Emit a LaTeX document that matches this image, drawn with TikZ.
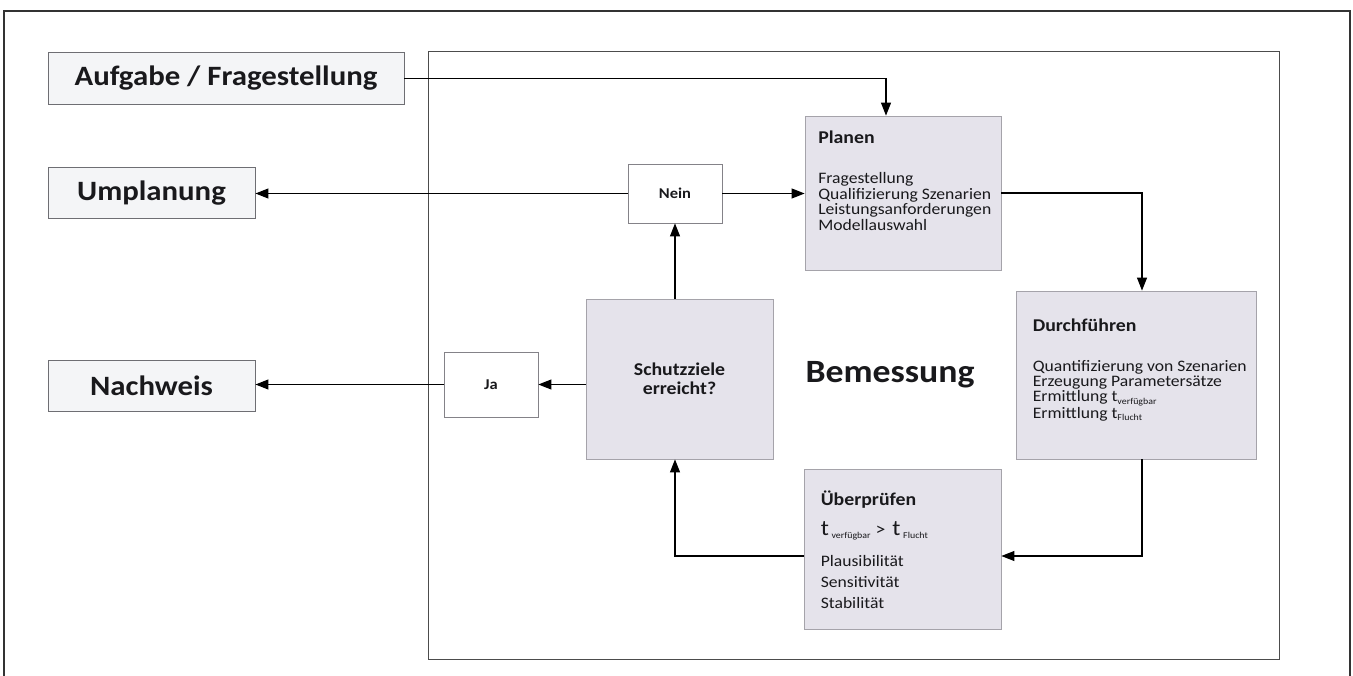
\documentclass[tikz,border=0pt]{standalone}
\usepackage{fontspec}
\setmainfont{Carlito}[FakeStretch=1.1]
\usetikzlibrary{arrows.meta,calc}
\definecolor{procfill}{RGB}{229,227,235}
\definecolor{procdraw}{RGB}{165,163,170}
\definecolor{sidefill}{RGB}{244,245,247}
\definecolor{sidedraw}{RGB}{110,110,115}
\definecolor{txt}{RGB}{25,25,28}
\newcommand{\hdf}{\fontsize{18}{20}\selectfont\bfseries}
\newcommand{\subf}[1]{\raisebox{-2.5pt}{\fontsize{9}{9}\selectfont #1}}
\begin{document}
\begin{tikzpicture}[x=1pt,y=-1pt,
  sidebox/.style={draw=sidedraw,fill=sidefill,line width=0.9pt,inner sep=0pt,
    font=\fontsize{28}{30}\selectfont\bfseries,text=txt},
  procbox/.style={draw=procdraw,fill=procfill,line width=0.8pt,inner sep=0pt},
  decbox/.style={draw=procdraw!80!black,fill=white,line width=0.8pt,inner sep=0pt,
    font=\fontsize{15}{17}\selectfont\bfseries,text=txt},
  inner/.style={anchor=north west,align=left,inner sep=0pt,text=txt},
  conn/.style={line width=1.1pt,-{Triangle[length=13pt,width=10pt]}},
  ]
\useasboundingbox (0,0) rectangle (1353,676);
% frames
\draw[line width=1.5pt,draw=black!80] (4,700) -- (4,11) -- (1350,11) -- (1350,700);
\draw[line width=1pt,draw=black!70] (428,52) rectangle (1279,659);

% left boxes
\node[sidebox,minimum width=356pt,minimum height=52pt] (auf) at (226,78.5) {Aufgabe / Fragestellung};
\node[sidebox,minimum width=207pt,minimum height=51pt] (um) at (151.5,193) {Umplanung};
\node[sidebox,minimum width=207pt,minimum height=51pt] (nw) at (151.5,385.5) {Nachweis};

% decision boxes
\node[decbox,minimum width=94pt,minimum height=59pt] (nein) at (675,193.5) {Nein};
\node[decbox,minimum width=94pt,minimum height=65pt] (ja) at (491,384.5) {Ja};

% process boxes
\node[procbox,minimum width=187pt,minimum height=160pt,align=center,
  font=\fontsize{18}{19}\selectfont\bfseries,text=txt] (sz) at (679.5,379) {Schutzziele\\erreicht?};
\node[procbox,minimum width=196pt,minimum height=154pt] (pl) at (903,193) {};
\node[procbox,minimum width=240pt,minimum height=168pt] (df) at (1136,375) {};
\node[procbox,minimum width=197pt,minimum height=160pt] (ue) at (902.5,549) {};

\node[inner,font=\fontsize{16}{15.5}\selectfont] (plt) at ([shift={(13.5pt,-15.5pt)}]pl.north west)
  {{\hdf Planen}\\[24.5pt]Fragestellung\\Qualifizierung Szenarien\\Leistungsanforderungen\\Modellauswahl};
\node[inner,font=\fontsize{16}{15}\selectfont] (dft) at ([shift={(17pt,-28.5pt)}]df.north west)
  {{\hdf Durchführen}\\[25pt]Quantifizierung von Szenarien\\Erzeugung Parametersätze\\Ermittlung t\subf{verfügbar}\\Ermittlung t\subf{Flucht}};
\node[inner,font=\fontsize{16}{21}\selectfont] (uet) at ([shift={(17pt,-22.5pt)}]ue.north west)
  {{\hdf Überprüfen}\\[9pt]{\fontsize{22}{22}\selectfont t}\,\subf{verfügbar}\hspace{5pt}{\fontsize{18}{18}\selectfont >}\hspace{7pt}{\fontsize{22}{22}\selectfont t}\,\subf{Flucht}\\[10pt]Plausibilität\\Sensitivität\\Stabilität};

\node[font=\fontsize{32.5}{34}\selectfont\bfseries,text=txt,inner sep=0pt] (bem) at (890,375) {Bemessung};

% connectors
\draw[conn] (auf.east) -| ([xshift=-17pt]pl.north);
\draw[conn] (nein.west) -- (nein.west -| um.east);
\draw[conn] (nein.east) -- (nein.east -| pl.west);
\draw[conn] (sz.north -| nein.south) -- (nein.south);
\draw[conn] (pl.east) -| ([xshift=6pt]df.north);
\draw[conn] ([xshift=6pt]df.south) |- ([yshift=-7pt]ue.east);
\draw[conn] ([yshift=-7pt]ue.west) -| (sz.south -| nein.south);
\draw[conn] (sz.west |- ja.east) -- (ja.east);
\draw[conn] (ja.west) -- (ja.west -| nw.east);
\end{tikzpicture}
\end{document}
